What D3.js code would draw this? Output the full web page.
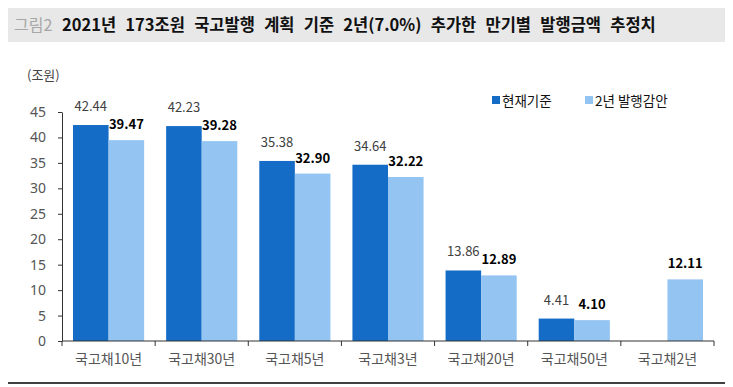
<!DOCTYPE html>
<html>
<head>
<meta charset="utf-8">
<script src="https://cdn.jsdelivr.net/npm/d3@7"></script>
<style>
  body { margin: 0; background: #fff; }
  svg { display: block; font-family: "Noto Sans CJK KR", "Noto Sans", sans-serif; }
</style>
</head>
<body>
<div id="chart"></div>
<script>
"use strict";

var categories = ["국고채10년", "국고채30년", "국고채5년", "국고채3년", "국고채20년", "국고채50년", "국고채2년"];
var currentValues = [42.44, 42.23, 35.38, 34.64, 13.86, 4.41, null];
var adjustedValues = [39.47, 39.28, 32.90, 32.22, 12.89, 4.10, 12.11];
var seriesNames = ["현재기준", "2년 발행감안"];
var yTicks = [0, 5, 10, 15, 20, 25, 30, 35, 40, 45];

var width = 733, height = 387;
var margin = { top: 112, bottom: 46, left: 62, right: 19 };
var plotW = width - margin.left - margin.right;
var plotH = height - margin.top - margin.bottom;
var colors = ["#156cc6", "#94c4f2"];

var svg = d3.select("#chart").append("svg")
    .attr("width", width)
    .attr("height", height);

// title bar
svg.append("rect")
    .attr("x", 8).attr("y", 8)
    .attr("width", 717).attr("height", 34)
    .attr("fill", "#e8e8e8");
svg.append("text")
    .attr("x", 14).attr("y", 31)
    .style("font-size", "16px")
    .style("fill", "#a6a6a6")
    .text("그림2");
svg.append("text")
    .attr("x", 62).attr("y", 31)
    .style("font-size", "16.5px")
    .style("font-weight", "bold")
    .style("word-spacing", "5.5px")
    .style("fill", "#111")
    .text("2021년 173조원 국고발행 계획 기준 2년(7.0%) 추가한 만기별 발행금액 추정치");

// bottom rule
svg.append("line")
    .attr("x1", 8).attr("x2", 725)
    .attr("y1", 383).attr("y2", 383)
    .attr("stroke", "#000").attr("stroke-width", 1.5);

svg.append("text")
    .attr("x", 27).attr("y", 80)
    .style("font-size", "13px")
    .style("fill", "#444")
    .text("(조원)");

var g = svg.append("g")
    .attr("transform", "translate(" + margin.left + "," + margin.top + ")");

var x0 = d3.scaleBand()
    .domain(categories)
    .range([0, plotW])
    .paddingInner(0)
    .paddingOuter(0);
var x1 = d3.scaleBand()
    .domain([0, 1])
    .range([11, x0.bandwidth() - 11]);
var y = d3.scaleLinear()
    .domain([0, 45])
    .range([plotH, 0]);

var data = categories.map(function (c, i) {
    return { cat: c, vals: [currentValues[i], adjustedValues[i]] };
});

var groups = g.selectAll("g.grp")
    .data(data)
    .enter().append("g")
    .attr("class", "grp")
    .attr("transform", function (d) { return "translate(" + x0(d.cat) + ",0)"; });

var bars = groups.selectAll("g.bar")
    .data(function (d) {
        return d.vals.map(function (v, k) { return { k: k, v: v }; })
            .filter(function (e) { return e.v !== null; });
    })
    .enter().append("g").attr("class", "bar");

bars.append("rect")
    .attr("x", function (d) { return x1(d.k); })
    .attr("y", function (d) { return y(d.v); })
    .attr("width", x1.bandwidth())
    .attr("height", function (d) { return plotH - y(d.v); })
    .attr("fill", function (d) { return colors[d.k]; });

bars.append("text")
    .attr("x", function (d) { return x1(d.k) + x1.bandwidth() / 2; })
    .attr("y", function (d) { return y(d.v) - (d.k === 0 ? 14 : 11); })
    .attr("text-anchor", "middle")
    .style("font-size", "13px")
    .style("font-weight", function (d) { return d.k === 1 ? "bold" : "normal"; })
    .style("fill", function (d) { return d.k === 1 ? "#000" : "#404040"; })
    .text(function (d) { return d.v.toFixed(2); });

// axes
var yAxis = d3.axisLeft(y).tickValues(yTicks).tickSize(4).tickSizeOuter(0);
var yG = g.append("g").call(yAxis);
yG.select(".domain").attr("stroke", "#333");
yG.selectAll(".tick line").attr("stroke", "#333");
yG.selectAll(".tick text")
    .attr("x", -16)
    .style("font-size", "14px")
    .style("font-family", "'Noto Sans', sans-serif")
    .style("fill", "#555");

var xAxisG = g.append("g").attr("transform", "translate(0," + plotH + ")");
xAxisG.append("line")
    .attr("x1", 0).attr("x2", plotW)
    .attr("stroke", "#333");
xAxisG.selectAll("line.tk")
    .data(d3.range(categories.length + 1))
    .enter().append("line")
    .attr("class", "tk")
    .attr("x1", function (i) { return i * x0.bandwidth(); })
    .attr("x2", function (i) { return i * x0.bandwidth(); })
    .attr("y1", 0).attr("y2", 5)
    .attr("stroke", "#333");
xAxisG.selectAll("text")
    .data(categories)
    .enter().append("text")
    .attr("x", function (d) { return x0(d) + x0.bandwidth() / 2; })
    .attr("y", 23)
    .attr("text-anchor", "middle")
    .style("font-size", "14px")
    .style("fill", "#555")
    .text(function (d) { return d; });

// legend
var legend = svg.append("g");
var legendX = [492, 585];
seriesNames.forEach(function (name, k) {
    legend.append("rect")
        .attr("x", legendX[k]).attr("y", 96)
        .attr("width", 8).attr("height", 8)
        .attr("fill", colors[k]);
    legend.append("text")
        .attr("x", legendX[k] + 10).attr("y", 105.5)
        .style("font-size", "13.5px")
        .style("fill", "#111")
        .text(name);
});
</script>
</body>
</html>
